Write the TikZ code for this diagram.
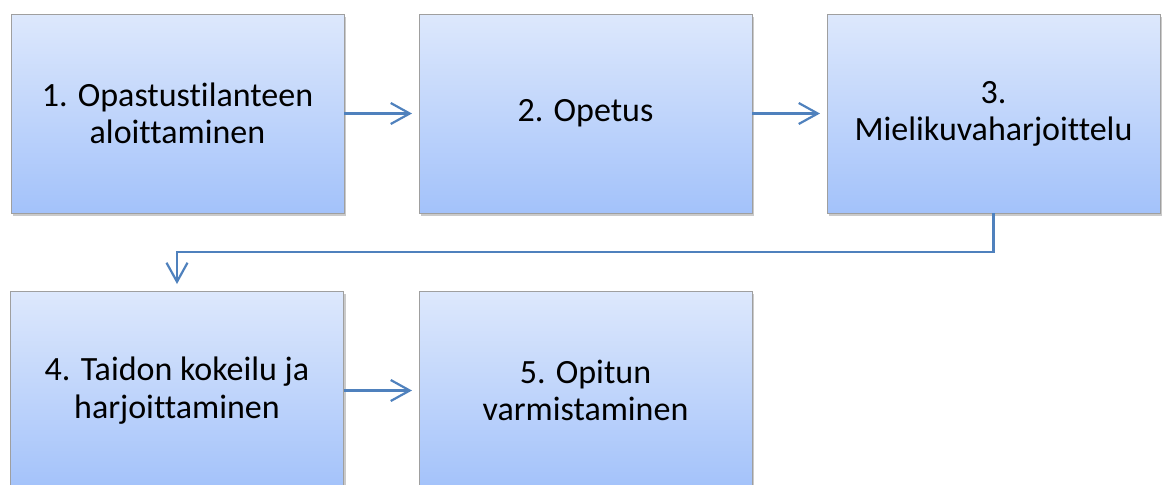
\documentclass[tikz,border=0pt]{standalone}
\usepackage{fontspec}
\setmainfont[Ligatures={NoCommon}]{Carlito}
\usetikzlibrary{arrows.meta,shadows}
\definecolor{boxtop}{HTML}{DDE8FC}
\definecolor{boxbot}{HTML}{A3C2FA}
\definecolor{linkblue}{HTML}{4F81BD}
\begin{document}
\begin{tikzpicture}[x=0.5pt, y=-0.5pt]
			\tikzset{vaihe/.style={rectangle, draw=gray!75, line width=0.4pt, top color=boxtop, bottom color=boxbot,
				minimum width=166.5pt, minimum height=99.5pt, inner sep=0pt, outer sep=0pt, align=center,
				font=\fontsize{17}{18.6}\selectfont,
				drop shadow={shadow xshift=1.2pt, shadow yshift=-1.6pt, opacity=0.35, fill=black!60}},
			linkki/.style={draw=linkblue, line width=1.1pt, -{Straight Barb[length=9.5pt, width=10.5pt, line width=1.1pt]}, shorten >=3.5pt}};
			\useasboundingbox (0,0) rectangle (1165,484);
			\foreach \n/\px/\py/\ntext in {1/177.5/113.5/{1. Opastustilanteen\\aloittaminen}, 2/585.5/113.5/{2. Opetus}, 3/993.5/113.5/{3.\\Mielikuvaharjoittelu}, 4/177/390.5/{4. Taidon kokeilu ja\\harjoittaminen}, 5/585.5/390.5/{5. Opitun\\varmistaminen}} {
				\node[vaihe] (V\n) at (\px, \py) {\ntext};
			}

			\draw[linkki] (V1) -- (V2);
			\draw[linkki] (V2) -- (V3);
			\draw[linkki] (V3.south) -- ++(0,39) -| (V4.north);
			\draw[linkki] (V4) -- (V5);
		\end{tikzpicture}
\end{document}
